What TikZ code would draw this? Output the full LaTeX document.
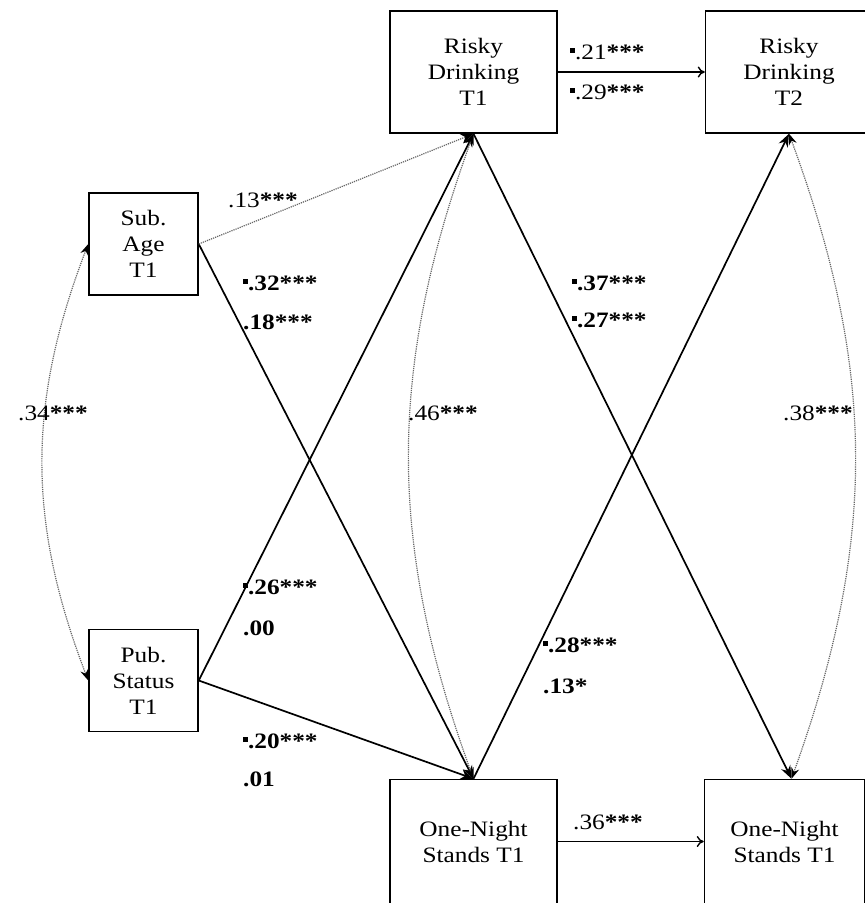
\documentclass[tikz,border=0pt]{standalone}
\usepackage{fontspec}
\setmainfont{Liberation Serif}[FakeStretch=1.15]
\usetikzlibrary{positioning,arrows.meta}
\newcommand{\msq}{\rule[0.28em]{0.22em}{0.22em}}
\newcommand{\stars}[1]{\textbf{#1}}

\begin{document}
\begin{tikzpicture}[x=1pt, y=-1pt,
		varbox/.style={draw, line width=1.5pt, minimum width=167pt, minimum height=122pt, align=center, inner sep=0pt, font=\fontsize{22}{26}\selectfont},
		predbox/.style={varbox, minimum width=109pt, minimum height=102pt},
		coef/.style={anchor=west, inner sep=0pt, font=\fontsize{22}{26}\selectfont},
		bcoef/.style={coef, font=\fontsize{22}{26}\selectfont\bfseries},
		effect/.style={line width=1.7pt, -{Stealth[length=13pt, width=10pt]}},
		stab/.style={line width=1.4pt, -{To[length=7pt, width=11pt]}},
		cov/.style={gray!80!black, densely dotted, line width=1.2pt, {Stealth[length=11pt, width=8pt, color=black]}-{Stealth[length=11pt, width=8pt, color=black]}}
		]
		\useasboundingbox (0,0) rectangle (865,903);
		% Outcomes at T1 and T2
		\node[varbox] (rd1) at (473.5,72) {Risky\\Drinking\\T1};
		\node[varbox, right=147pt of rd1] (rd2) {Risky\\Drinking\\T2};
		\node[varbox, minimum height=124pt, below=645pt of rd1] (ons1) {One-Night\\Stands T1};
		\node[varbox, minimum width=160pt, minimum height=124pt, right=146pt of ons1] (ons2) {One-Night\\Stands T1};
		% Predictors
		\node[predbox] (age) at (143.5,244) {Sub.\\Age\\T1};
		\node[predbox, below=333pt of age] (pub) {Pub.\\Status\\T1};
		
		% Stability paths
		\draw[stab] (rd1) -- (rd2);
		\draw[stab] (ons1) -- (ons2);
		% Cross paths
		\draw[effect] (age.east) -- (ons1.north);
		\draw[effect] (pub.east) -- (rd1.south);
		\draw[effect] (pub.east) -- (ons1.north);
		\draw[effect] (rd1.south) -- ([xshift=7pt]ons2.north);
		\draw[effect] (ons1.north) -- (rd2.south);
		\draw[gray!80!black, densely dotted, line width=1.2pt, -{Stealth[length=13pt, width=10pt, color=black]}] (age.east) -- (rd1.south);
		% Correlations
		\draw[cov] (age.west) to[bend right=21] (pub.west);
		\draw[cov] (rd1.south) to[bend right=20] (ons1.north);
		\draw[cov] (rd2.south) to[bend left=20] ([xshift=7pt]ons2.north);
		
		% Coefficients
		\node[coef] (c13) at (228,200) {.13\stars{***}};
		\node[bcoef] (c32) at (243,283) {\msq.32***};
		\node[bcoef] (c18) at (243,322) {.18***};
		\node[coef] (c21) at (570,52) {\msq.21\stars{***}};
		\node[coef] (c29) at (570,92) {\msq.29\stars{***}};
		\node[bcoef] (c37) at (572,283) {\msq.37***};
		\node[bcoef] (c27) at (572,320) {\msq.27***};
		\node[coef] (c34) at (18,413) {.34\stars{***}};
		\node[coef] (c46) at (408,413) {.46\stars{***}};
		\node[coef] (c38) at (783,413) {.38\stars{***}};
		\node[bcoef] (c26) at (243,587) {\msq.26***};
		\node[bcoef] (c00) at (243,628) {.00};
		\node[bcoef] (c28) at (543,645) {\msq.28***};
		\node[bcoef] (c13b) at (543,686) {.13*};
		\node[bcoef] (c20) at (243,741) {\msq.20***};
		\node[bcoef] (c01) at (243,779) {.01};
		\node[coef] (c36) at (573,822) {.36\stars{***}};
	\end{tikzpicture}
\end{document}
